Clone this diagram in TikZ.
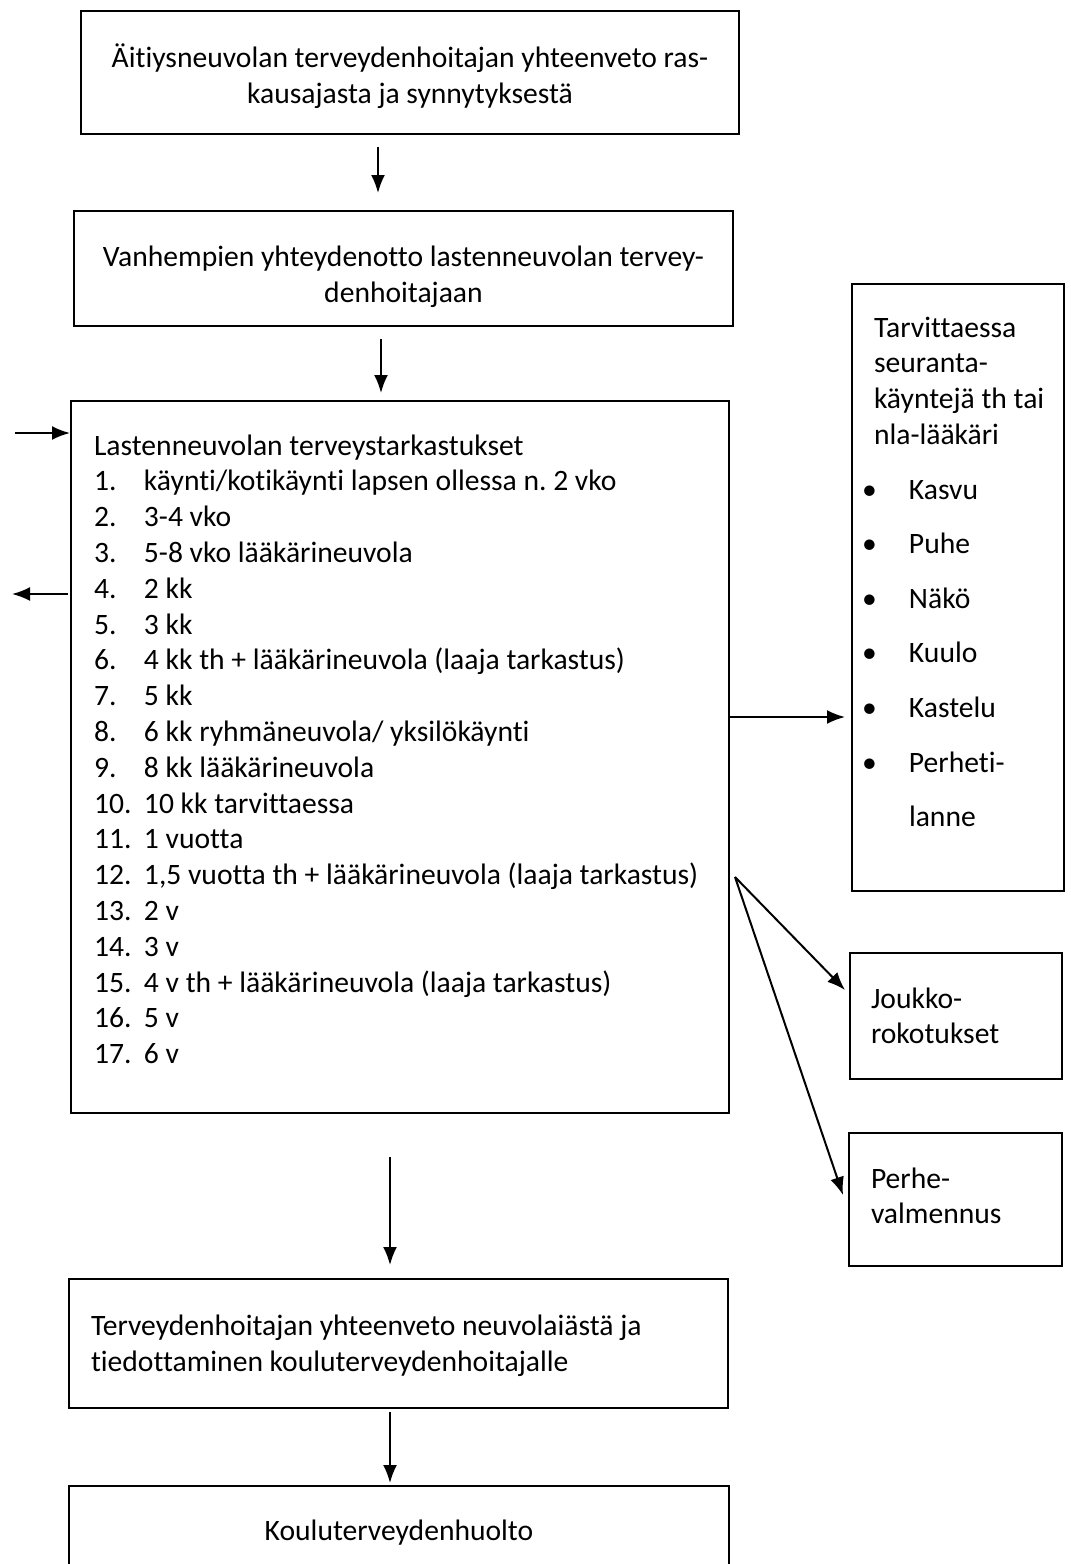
\documentclass[tikz,border=0pt]{standalone}
\usepackage{fontspec}
\setmainfont{Carlito}[Ligatures=NoCommon]
\usetikzlibrary{arrows.meta}

\tikzset{
  laatikko/.style={draw, line width=1pt, inner sep=0pt, anchor=north west},
  nuoli/.style={line width=1pt, -{Latex[length=9pt,width=7pt]}},
  every node/.style={font=\fontsize{14.8}{18}\selectfont},
}
\newcommand{\kohta}[2]{\par\makebox[25pt][l]{#1}#2}
\newcommand{\pallo}[1]{\par\makebox[23.5pt][l]{\textbullet}#1}
\frenchspacing

\begin{document}
\begin{tikzpicture}[x=0.5pt, y=-0.5pt]
\useasboundingbox (0,0) rectangle (1071,1564);
% boxes down the middle
\node[laatikko] (aitiys) at (80,10) {\begin{minipage}[t][61.5pt][t]{329pt}\centering
\rule{0pt}{28pt}Äitiysneuvolan terveydenhoitajan yhteenveto ras-\par kausajasta ja synnytyksestä\end{minipage}};
\node[laatikko] (vanhemmat) at (73,210) {\begin{minipage}[t][57.5pt][t]{329.5pt}\centering
\rule{0pt}{27.5pt}Vanhempien yhteydenotto lastenneuvolan tervey-\par denhoitajaan\end{minipage}};
\node[laatikko] (lnv) at (70,400) {\begin{minipage}[t][356pt][t]{329pt}\raggedright\leftskip=11.5pt\baselineskip=17.9pt
\rule{0pt}{27pt}Lastenneuvolan terveystarkastukset
\kohta{1.}{käynti/kotikäynti lapsen ollessa n. 2 vko}
\kohta{2.}{3-4 vko}
\kohta{3.}{5-8 vko lääkärineuvola}
\kohta{4.}{2 kk}
\kohta{5.}{3 kk}
\kohta{6.}{4 kk th + lääkärineuvola (laaja tarkastus)}
\kohta{7.}{5 kk}
\kohta{8.}{6 kk ryhmäneuvola/ yksilökäynti}
\kohta{9.}{8 kk lääkärineuvola}
\kohta{10.}{10 kk tarvittaessa}
\kohta{11.}{1 vuotta}
\kohta{12.}{1,5 vuotta th + lääkärineuvola (laaja tarkastus)}
\kohta{13.}{2 v}
\kohta{14.}{3 v}
\kohta{15.}{4 v th + lääkärineuvola (laaja tarkastus)}
\kohta{16.}{5 v}
\kohta{17.}{6 v}\par\end{minipage}};
\node[laatikko] (yhteenveto) at (68,1278) {\begin{minipage}[t][64.5pt][t]{329.5pt}\raggedright\leftskip=11pt
\rule{0pt}{28pt}Terveydenhoitajan yhteenveto neuvolaiästä ja\par tiedottaminen kouluterveydenhoitajalle\end{minipage}};
\node[laatikko] (koulu) at (68,1485) {\begin{minipage}[t][60pt][t]{330pt}\centering
\rule{0pt}{27pt}Kouluterveydenhuolto\end{minipage}};
% boxes on the right
\node[laatikko] (seuranta) at (851,283) {\begin{minipage}[t][303.5pt][t]{106pt}\raggedright\leftskip=5pt\baselineskip=17.9pt
\rule{0pt}{26.5pt}\hspace*{6pt}Tarvittaessa\par \hspace*{6pt}seuranta-\par \hspace*{6pt}käyntejä th tai\par \hspace*{6pt}nla-lääkäri\par
\baselineskip=27.3pt
\pallo{Kasvu}
\pallo{Puhe}
\pallo{Näkö}
\pallo{Kuulo}
\pallo{Kastelu}
\pallo{Perheti-}
\par\hspace*{23.5pt}lanne\par\end{minipage}};
\node[laatikko] (joukko) at (849,952) {\begin{minipage}[t][63pt][t]{106pt}\raggedright\leftskip=10.5pt\baselineskip=17.5pt
\rule{0pt}{27.5pt}Joukko-\par rokotukset\end{minipage}};
\node[laatikko] (perhe) at (848,1132) {\begin{minipage}[t][66.5pt][t]{106.5pt}\raggedright\leftskip=11pt\baselineskip=17.5pt
\rule{0pt}{27.5pt}Perhe-\par valmennus\end{minipage}};
% arrows
\coordinate (n1) at ([xshift=149pt]aitiys.south west);
\draw[nuoli, shorten <=6pt, shorten >=8.5pt] (n1) -- (n1 |- vanhemmat.north);
\coordinate (n2) at ([xshift=154pt]vanhemmat.south west);
\draw[nuoli, shorten <=6pt, shorten >=3.5pt] (n2) -- (n2 |- lnv.north);
\coordinate (n3) at ([xshift=160pt]lnv.south west);
\draw[nuoli, shorten <=21.5pt, shorten >=6.5pt] (n3) -- (n3 |- yhteenveto.north);
\coordinate (n4) at ([xshift=161pt]yhteenveto.south west);
\draw[nuoli, shorten <=1.5pt, shorten >=1pt] (n4) -- (n4 |- koulu.north);
%\draw[nuoli] (lnv.east) -- (seuranta.west);
\coordinate (sisaan) at ([xshift=-27.5pt,yshift=-16.5pt]lnv.north west);
\draw[nuoli] (sisaan) -- (sisaan -| lnv.west);
\coordinate (ulos) at ([xshift=-29pt,yshift=-97pt]lnv.north west);
\draw[nuoli, shorten <=1pt] (ulos -| lnv.west) -- (ulos);
\coordinate (oikea) at ([yshift=-158.5pt]lnv.north east);
\draw[nuoli, shorten >=3pt] (oikea) -- (oikea -| seuranta.west);
\coordinate (haara) at ([xshift=2.5pt,yshift=-238.5pt]lnv.north east);
\draw[nuoli] (haara) -- ([xshift=-2pt,yshift=-19pt]joukko.north west);
\draw[nuoli] (haara) -- ([xshift=-2.5pt,yshift=-31.5pt]perhe.north west);
\end{tikzpicture}
\end{document}
